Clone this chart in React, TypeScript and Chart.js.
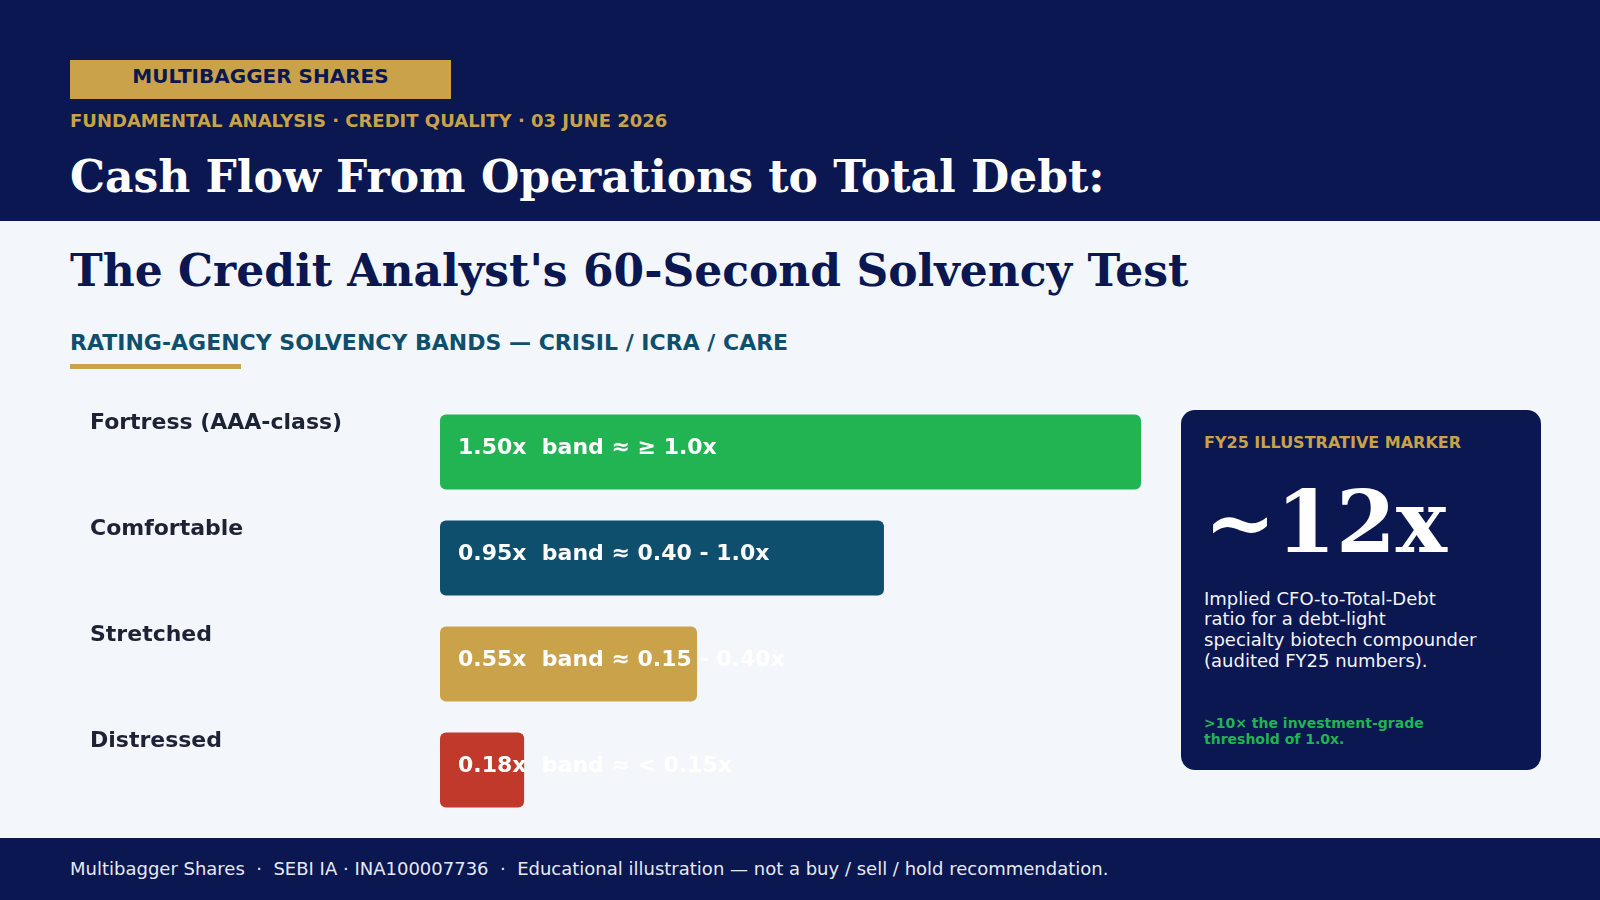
import React, { useEffect, useRef } from "react";
import { Chart, registerables } from "chart.js";

Chart.register(...registerables);

const categories = ["Fortress (AAA-class)", "Comfortable", "Stretched", "Distressed"];
const ratioValues = [1.5, 0.95, 0.55, 0.18];
const bandLabels = ["≥ 1.0x", "0.40 - 1.0x", "0.15 - 0.40x", "< 0.15x"];
const barColors = ["#22b352", "#0e4f6e", "#c9a24a", "#c0392b"];

const NAVY = "#0a1750";
const GOLD = "#c9a24a";
const BG = "#f3f7fc";
const SANS = "'DejaVu Sans', sans-serif";
const SERIF = "'DejaVu Serif', serif";

const barTextPlugin = {
  id: "barText",
  afterDatasetsDraw(chart: any) {
    const ctx = chart.ctx;
    const meta = chart.getDatasetMeta(0);
    ctx.save();
    ctx.font = `bold 22px ${SANS}`;
    ctx.fillStyle = "#ffffff";
    ctx.textAlign = "left";
    ctx.textBaseline = "alphabetic";
    meta.data.forEach((bar: any, i: number) => {
      const v = ratioValues[i];
      const text = `${v.toFixed(2)}x  band ≈ ${bandLabels[i]}`;
      ctx.fillText(text, bar.base + 18, bar.y + 1.5);
    });
    ctx.restore();
  },
};

function BandChart() {
  const ref = useRef<HTMLCanvasElement | null>(null);
  useEffect(() => {
    if (!ref.current) return;
    const chart = new Chart(ref.current, {
      type: "bar",
      data: {
        labels: categories,
        datasets: [
          {
            data: ratioValues,
            backgroundColor: barColors,
            borderRadius: 6,
            borderSkipped: false,
            barPercentage: 0.706,
            categoryPercentage: 1,
          },
        ],
      },
      options: {
        indexAxis: "y",
        responsive: false,
        animation: false,
        layout: { padding: 0 },
        plugins: { legend: { display: false }, tooltip: { enabled: false } },
        scales: {
          x: { display: false, min: 0, max: 1.5 },
          y: {
            grid: { display: false },
            border: { display: false },
            afterFit: (scale: any) => {
              scale.width = 350;
              scale.paddingTop = 0;
              scale.paddingBottom = 0;
            },
            ticks: {
              crossAlign: "far",
              labelOffset: -29,
              padding: 0,
              color: "#1e2235",
              font: { family: "DejaVu Sans", size: 22, weight: "bold" },
            },
          },
        },
      },
      plugins: [barTextPlugin],
    } as any);
    return () => chart.destroy();
  }, []);
  return (
    <canvas
      ref={ref}
      width={1051}
      height={424}
      style={{ position: "absolute", left: 90, top: 398.5, width: 1051, height: 424 }}
    />
  );
}

function Txt(props: {
  x: number;
  baseline: number;
  size: number;
  children: any;
  color: string;
  family?: string;
  weight?: string | number;
  align?: "left" | "center";
  width?: number;
  spacing?: number;
}) {
  const { x, baseline, size, color, family = SANS, weight = "bold", align = "left", width, spacing = 0 } = props;
  const top = baseline - 0.846 * size;
  return (
    <div
      style={{
        position: "absolute",
        left: align === "center" && width ? x - width / 2 : x,
        top,
        width: width,
        textAlign: align,
        fontFamily: family,
        fontWeight: weight as any,
        fontSize: size,
        lineHeight: `${size}px`,
        color,
        whiteSpace: "pre",
        letterSpacing: spacing,
      }}
    >
      {props.children}
    </div>
  );
}

export default function App() {
  return (
    <div
      style={{
        position: "absolute",
        left: 0,
        top: 0,
        width: 1600,
        height: 900,
        overflow: "hidden",
        background: BG,
        fontFamily: SANS,
      }}
    >
      {/* header */}
      <div style={{ position: "absolute", left: 0, top: 0, width: 1600, height: 221, background: NAVY }} />
      <div style={{ position: "absolute", left: 70, top: 60, width: 381, height: 39, background: GOLD }} />
      <Txt x={260.5} width={400} align="center" baseline={82.7} size={20} color={NAVY}>
        MULTIBAGGER SHARES
      </Txt>
      <Txt x={70} baseline={127.3} size={18} color={GOLD}>
        FUNDAMENTAL ANALYSIS · CREDIT QUALITY · 03 JUNE 2026
      </Txt>
      <Txt x={70} baseline={192.5} size={44} color="#ffffff" family={SERIF}>
        Cash Flow From Operations to Total Debt:
      </Txt>
      <Txt x={70} baseline={286.7} size={44} color={NAVY} family={SERIF}>
        The Credit Analyst's 60-Second Solvency Test
      </Txt>
      <Txt x={70} baseline={351} size={22} color="#0e4f6e">
        RATING-AGENCY SOLVENCY BANDS — CRISIL / ICRA / CARE
      </Txt>
      <div style={{ position: "absolute", left: 70, top: 364, width: 171, height: 4.5, background: GOLD }} />

      <BandChart />

      {/* card */}
      <div
        style={{
          position: "absolute",
          left: 1181,
          top: 410,
          width: 360,
          height: 360,
          borderRadius: 14,
          background: NAVY,
        }}
      />
      <Txt x={1204} baseline={448.8} size={16} color={GOLD}>
        FY25 ILLUSTRATIVE MARKER
      </Txt>
      <Txt x={1204} baseline={552} size={86} color="#ffffff" family={SERIF}>
        ~12x
      </Txt>
      <div
        style={{
          position: "absolute",
          left: 1204,
          top: 588.5,
          fontFamily: SANS,
          fontSize: 18,
          lineHeight: "20.7px",
          color: "#f2f4fa",
          whiteSpace: "pre",
        }}
      >
        {"Implied CFO-to-Total-Debt\nratio for a debt-light\nspecialty biotech compounder\n(audited FY25 numbers)."}
      </div>
      <div
        style={{
          position: "absolute",
          left: 1204,
          top: 714.5,
          fontFamily: SANS,
          fontWeight: "bold",
          fontSize: 14,
          lineHeight: "16.8px",
          color: "#22b352",
          whiteSpace: "pre",
        }}
      >
        {">10× the investment-grade\nthreshold of 1.0x."}
      </div>

      {/* footer */}
      <div style={{ position: "absolute", left: 0, top: 838, width: 1600, height: 62, background: NAVY }} />
      <Txt x={70} baseline={875.5} size={18} color="#e6e9f3" weight="normal">
        {"Multibagger Shares  ·  SEBI IA · INA100007736  ·  Educational illustration — not a buy / sell / hold recommendation."}
      </Txt>
    </div>
  );
}
